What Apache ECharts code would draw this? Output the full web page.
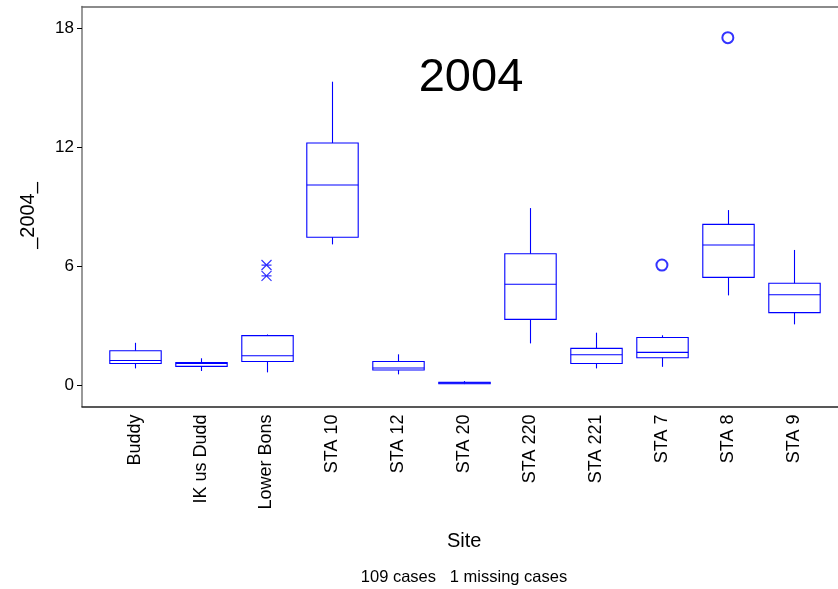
<!DOCTYPE html>
<html>
<head>
<meta charset="utf-8">
<script src="https://cdn.jsdelivr.net/npm/echarts@6/dist/echarts.min.js"></script>
<style>html,body{margin:0;padding:0;background:#fff;}#chart{width:838px;height:589px;}</style>
</head>
<body>
<div id="chart"></div>
<script>
// ---- data ----
const sites = ['Buddy','IK us Dudd','Lower Bons','STA 10','STA 12','STA 20','STA 220','STA 221','STA 7','STA 8','STA 9'];
const whiskerLow  = [0.84, 0.71, 0.64, 7.09, 0.54, 0.05, 2.10, 0.84, 0.92, 4.52, 3.06];
const q1          = [1.09, 0.94, 1.19, 7.45, 0.76, 0.07, 3.31, 1.09, 1.38, 5.43, 3.65];
const median      = [1.24, 1.09, 1.48, 10.08, 0.86, 0.11, 5.08, 1.53, 1.65, 7.06, 4.55];
const q3          = [1.73, 1.14, 2.49, 12.20, 1.19, 0.14, 6.62, 1.85, 2.40, 8.10, 5.13];
const whiskerHigh = [2.13, 1.35, 2.55, 15.29, 1.55, 0.20, 8.92, 2.64, 2.51, 8.82, 6.81];
const farOutliers = [['STA 7', 6.05], ['STA 8', 17.51]];     // circles
const outliers    = [['Lower Bons', 6.05], ['Lower Bons', 5.50]]; // asterisks
const yTicks = [0, 6, 12, 18];
const yMin = -1.08, yMax = 19.08;
const titleText = '2004';
const yTitle = '_2004_';
const xTitle = 'Site';
const footer = '109 cases   1 missing cases';

const FONT = 'Liberation Sans, Arial, sans-serif';
const BLUE = '#0000ff';

const chart = echarts.init(document.getElementById('chart'), null, {renderer: 'canvas'});

const boxData = sites.map((s, i) => [i, whiskerLow[i], q1[i], median[i], q3[i], whiskerHigh[i]]);

function renderBox(params, api) {
  const x = api.value(0);
  const pLow = api.coord([x, api.value(1)]);
  const pQ1 = api.coord([x, api.value(2)]);
  const pMed = api.coord([x, api.value(3)]);
  const pQ3 = api.coord([x, api.value(4)]);
  const pHigh = api.coord([x, api.value(5)]);
  const half = api.size([1, 0])[0] * 0.39;
  const cx = Math.round(pMed[0]) + 0.5;
  const st = {stroke: BLUE, lineWidth: 1.1, fill: null};
  return {
    type: 'group',
    children: [
      {type: 'line', shape: {x1: cx, y1: pQ3[1], x2: cx, y2: pHigh[1]}, style: st},
      {type: 'line', shape: {x1: cx, y1: pQ1[1], x2: cx, y2: pLow[1]}, style: st},
      {type: 'rect', shape: {x: cx - half, y: pQ3[1], width: 2 * half, height: pQ1[1] - pQ3[1]}, style: st},
      {type: 'line', shape: {x1: cx - half, y1: pMed[1], x2: cx + half, y2: pMed[1]}, style: st}
    ]
  };
}

const option = {
  animation: false,
  backgroundColor: '#fff',
  grid: [
    {left: 82, top: 6.5, right: -10, bottom: 182.5},
    {left: 101.75, top: 6.5, right: 11.3, bottom: 182.5}
  ],
  xAxis: [
    {gridIndex: 0, type: 'value', min: 0, max: 1, position: 'bottom',
     axisLine: {show: true, onZero: false, lineStyle: {color: '#222', width: 1.5}},
     axisTick: {show: false}, axisLabel: {show: false}, splitLine: {show: false}},
    {gridIndex: 0, type: 'value', min: 0, max: 1, position: 'top',
     axisLine: {show: true, onZero: false, lineStyle: {color: '#666', width: 1.5}},
     axisTick: {show: false}, axisLabel: {show: false}, splitLine: {show: false}},
    {gridIndex: 1, type: 'category', data: sites, position: 'bottom',
     axisLine: {show: false}, axisTick: {show: false}, splitLine: {show: false},
     axisLabel: {rotate: 90, margin: 8, fontSize: 18, fontFamily: FONT, color: '#000', interval: 0},
     name: xTitle, nameLocation: 'middle', nameGap: 125,
     nameTextStyle: {fontSize: 20, fontFamily: FONT, color: '#000'}}
  ],
  yAxis: [
    {gridIndex: 0, type: 'value', min: yMin, max: yMax,
     axisLine: {show: true, onZero: false, lineStyle: {color: '#777', width: 1.5}},
     axisTick: {show: true, length: 5, customValues: yTicks, lineStyle: {color: '#000', width: 1}},
     axisLabel: {customValues: yTicks, fontSize: 17, margin: 8, fontFamily: FONT, color: '#000'},
     splitLine: {show: false},
     name: yTitle, nameLocation: 'middle', nameGap: 44,
     nameTextStyle: {fontSize: 20, fontFamily: FONT, color: '#000', padding: [0, 18, 0, 0]}},
    {gridIndex: 1, type: 'value', min: yMin, max: yMax, show: false}
  ],
  graphic: [
    {type: 'text', x: 471, y: 78,
     style: {text: titleText, font: '47px ' + FONT, fill: '#000', align: 'center', verticalAlign: 'middle'}},
    {type: 'text', x: 464, y: 577,
     style: {text: footer, font: '16.5px ' + FONT, fill: '#000', align: 'center', verticalAlign: 'middle'}}
  ],
  series: [
    {type: 'custom', xAxisIndex: 2, yAxisIndex: 1, renderItem: renderBox, data: boxData,
     encode: {x: 0, y: [1, 2, 3, 4, 5]}, silent: true},
    {type: 'scatter', xAxisIndex: 2, yAxisIndex: 1, data: farOutliers,
     symbol: 'emptyCircle', symbolSize: 11,
     itemStyle: {color: BLUE, borderColor: BLUE, borderWidth: 1}, silent: true},
    {type: 'scatter', xAxisIndex: 2, yAxisIndex: 1, data: outliers,
     symbol: 'path://M0 0L10 10M10 0L0 10M0 5L10 5', symbolSize: 10,
     itemStyle: {color: 'none', borderColor: BLUE, borderWidth: 1.2}, silent: true}
  ]
};
chart.setOption(option);
</script>
</body>
</html>
